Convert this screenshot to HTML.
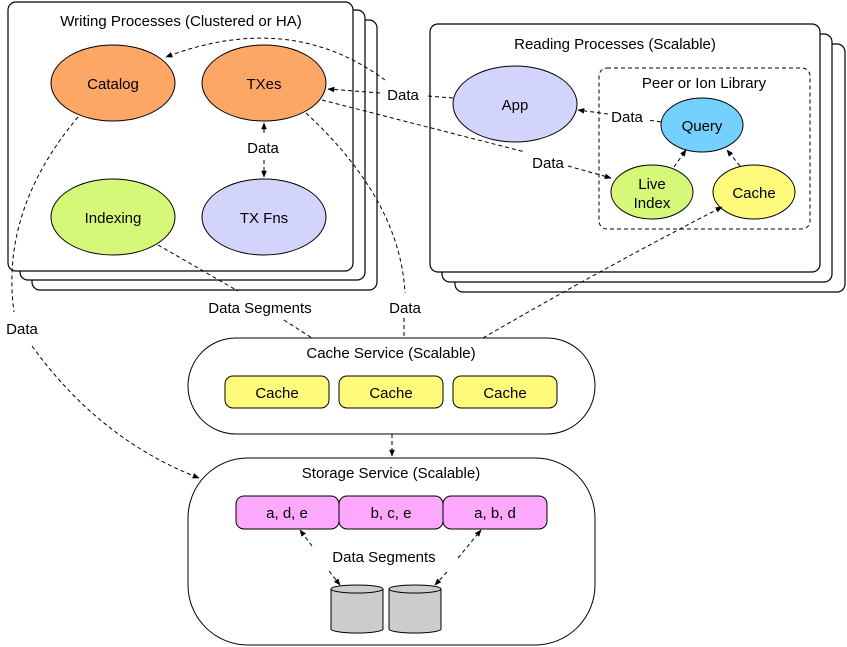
<!DOCTYPE html>
<html><head><meta charset="utf-8"><style>
html,body{margin:0;padding:0;background:#fff;}
svg{display:block;}
text{font-family:"Liberation Sans",Arial,sans-serif;font-size:15px;fill:#000;text-anchor:middle;}
</style></head><body>
<svg width="847" height="647" viewBox="0 0 847 647" xmlns="http://www.w3.org/2000/svg">
<defs>
<marker id="a" viewBox="0 0 10 10" refX="9" refY="5" markerWidth="7" markerHeight="7" orient="auto-start-reverse">
<path d="M0,1 L10,5 L0,9 z" fill="#000"/></marker>
</defs>
<g fill="#fff" stroke="#000" stroke-width="1.2">
<rect x="32" y="20" width="345" height="270" rx="8"/>
<rect x="20" y="10" width="345" height="270" rx="8"/>
<rect x="8" y="2" width="345" height="269" rx="8"/>
<rect x="455" y="44" width="390" height="248" rx="8"/>
<rect x="442" y="34" width="390" height="248" rx="8"/>
<rect x="430" y="24" width="390" height="248" rx="8"/>
</g>
<text x="181" y="26">Writing Processes (Clustered or HA)</text>
<text x="615" y="49">Reading Processes (Scalable)</text>
<rect x="599" y="68" width="211" height="161" rx="8" fill="none" stroke="#000" stroke-dasharray="4,3"/>
<text x="704" y="88">Peer or Ion Library</text>
<g stroke="#000" stroke-width="1">
<ellipse cx="113" cy="83" rx="62" ry="38" fill="#fda766"/>
<ellipse cx="264" cy="83" rx="62" ry="38" fill="#fda766"/>
<ellipse cx="113" cy="217" rx="62" ry="38" fill="#d5f878"/>
<ellipse cx="264" cy="217" rx="62" ry="38" fill="#d3d4fb"/>
<ellipse cx="515" cy="104" rx="62" ry="38" fill="#d3d4fb"/>
<ellipse cx="702" cy="125" rx="41" ry="27" fill="#74d1fd"/>
<ellipse cx="652" cy="192" rx="41" ry="27" fill="#d5f878"/>
<ellipse cx="754" cy="192" rx="41" ry="27" fill="#fefa7c"/>
</g>
<text x="113" y="89">Catalog</text>
<text x="264" y="89">TXes</text>
<text x="113" y="223">Indexing</text>
<text x="264" y="223">TX Fns</text>
<text x="515" y="110">App</text>
<text x="702" y="131">Query</text>
<text x="652" y="189">Live</text>
<text x="652" y="208">Index</text>
<text x="754" y="198">Cache</text>
<!-- cache service -->
<rect x="188" y="338" width="407" height="96" rx="48" fill="#fff" stroke="#000"/>
<text x="391" y="358">Cache Service (Scalable)</text>
<g fill="#fefa7c" stroke="#000">
<rect x="225" y="376" width="104" height="32" rx="8"/>
<rect x="339" y="376" width="104" height="32" rx="8"/>
<rect x="453" y="376" width="104" height="32" rx="8"/>
</g>
<text x="277" y="398">Cache</text><text x="391" y="398">Cache</text><text x="505" y="398">Cache</text>
<!-- storage -->
<rect x="188" y="458" width="407" height="187" rx="60" fill="#fff" stroke="#000"/>
<text x="391" y="478">Storage Service (Scalable)</text>
<g fill="#fca8fc" stroke="#000">
<rect x="236" y="496" width="103" height="33" rx="8"/>
<rect x="339" y="496" width="104" height="33" rx="8"/>
<rect x="443" y="496" width="104" height="33" rx="8"/>
</g>
<text x="287" y="518">a, d, e</text><text x="391" y="518">b, c, e</text><text x="495" y="518">a, b, d</text>
<g fill="#cccccc" stroke="#000">
<path d="M331,589 v40 a26,4 0 0 0 52,0 v-40"/><ellipse cx="357" cy="589" rx="26" ry="4"/>
<path d="M389,589 v40 a26,4 0 0 0 52,0 v-40"/><ellipse cx="415" cy="589" rx="26" ry="4"/>
</g>
<text x="384" y="562">Data Segments</text>
<!-- edges -->
<g fill="none" stroke="#000" stroke-dasharray="4,3" stroke-width="1">
<path d="M385,80 Q290,10 166,57" marker-end="url(#a)"/>
<path d="M453,98 L428,96"/><path d="M380,93 L328,89" marker-end="url(#a)"/>
<path d="M322,100 L525,152"/><path d="M568,166 L611,178" marker-end="url(#a)"/>
<path d="M264,133 L264,123" marker-end="url(#a)"/>
<path d="M264,160 L264,177" marker-end="url(#a)"/>
<path d="M661,122 L648,120"/><path d="M608,114 L578,110" marker-end="url(#a)"/>
<path d="M674,167 L686,150" marker-end="url(#a)"/>
<path d="M740,166 L727,150" marker-end="url(#a)"/>
<path d="M78,117 Q0,210 14,312"/>
<path d="M32,346 Q100,440 199,478" marker-end="url(#a)"/>
<path d="M158,245 L238,291"/><path d="M284,320 L312,338"/>
<path d="M306,113 Q400,200 405,293"/><path d="M404,318 L404,338"/>
<path d="M483,338 Q600,270 722,207" marker-end="url(#a)"/>
<path d="M392,434 L392,456" marker-end="url(#a)"/>
<path d="M312,546 L300,530" marker-end="url(#a)"/>
<path d="M458,558 L481,530" marker-end="url(#a)"/>
<path d="M329,571 L340,585" marker-end="url(#a)"/>
<path d="M447,572 L435,585" marker-end="url(#a)"/>
</g>
<g>
<rect x="383" y="84" width="40" height="20" fill="#fff"/>
<text x="403" y="100">Data</text>
<text x="263" y="153">Data</text>
<text x="548" y="168">Data</text>
<text x="627" y="122">Data</text>
<text x="22" y="334">Data</text>
<text x="260" y="313">Data Segments</text>
<text x="405" y="313">Data</text>
</g>
</svg>
</body></html>
